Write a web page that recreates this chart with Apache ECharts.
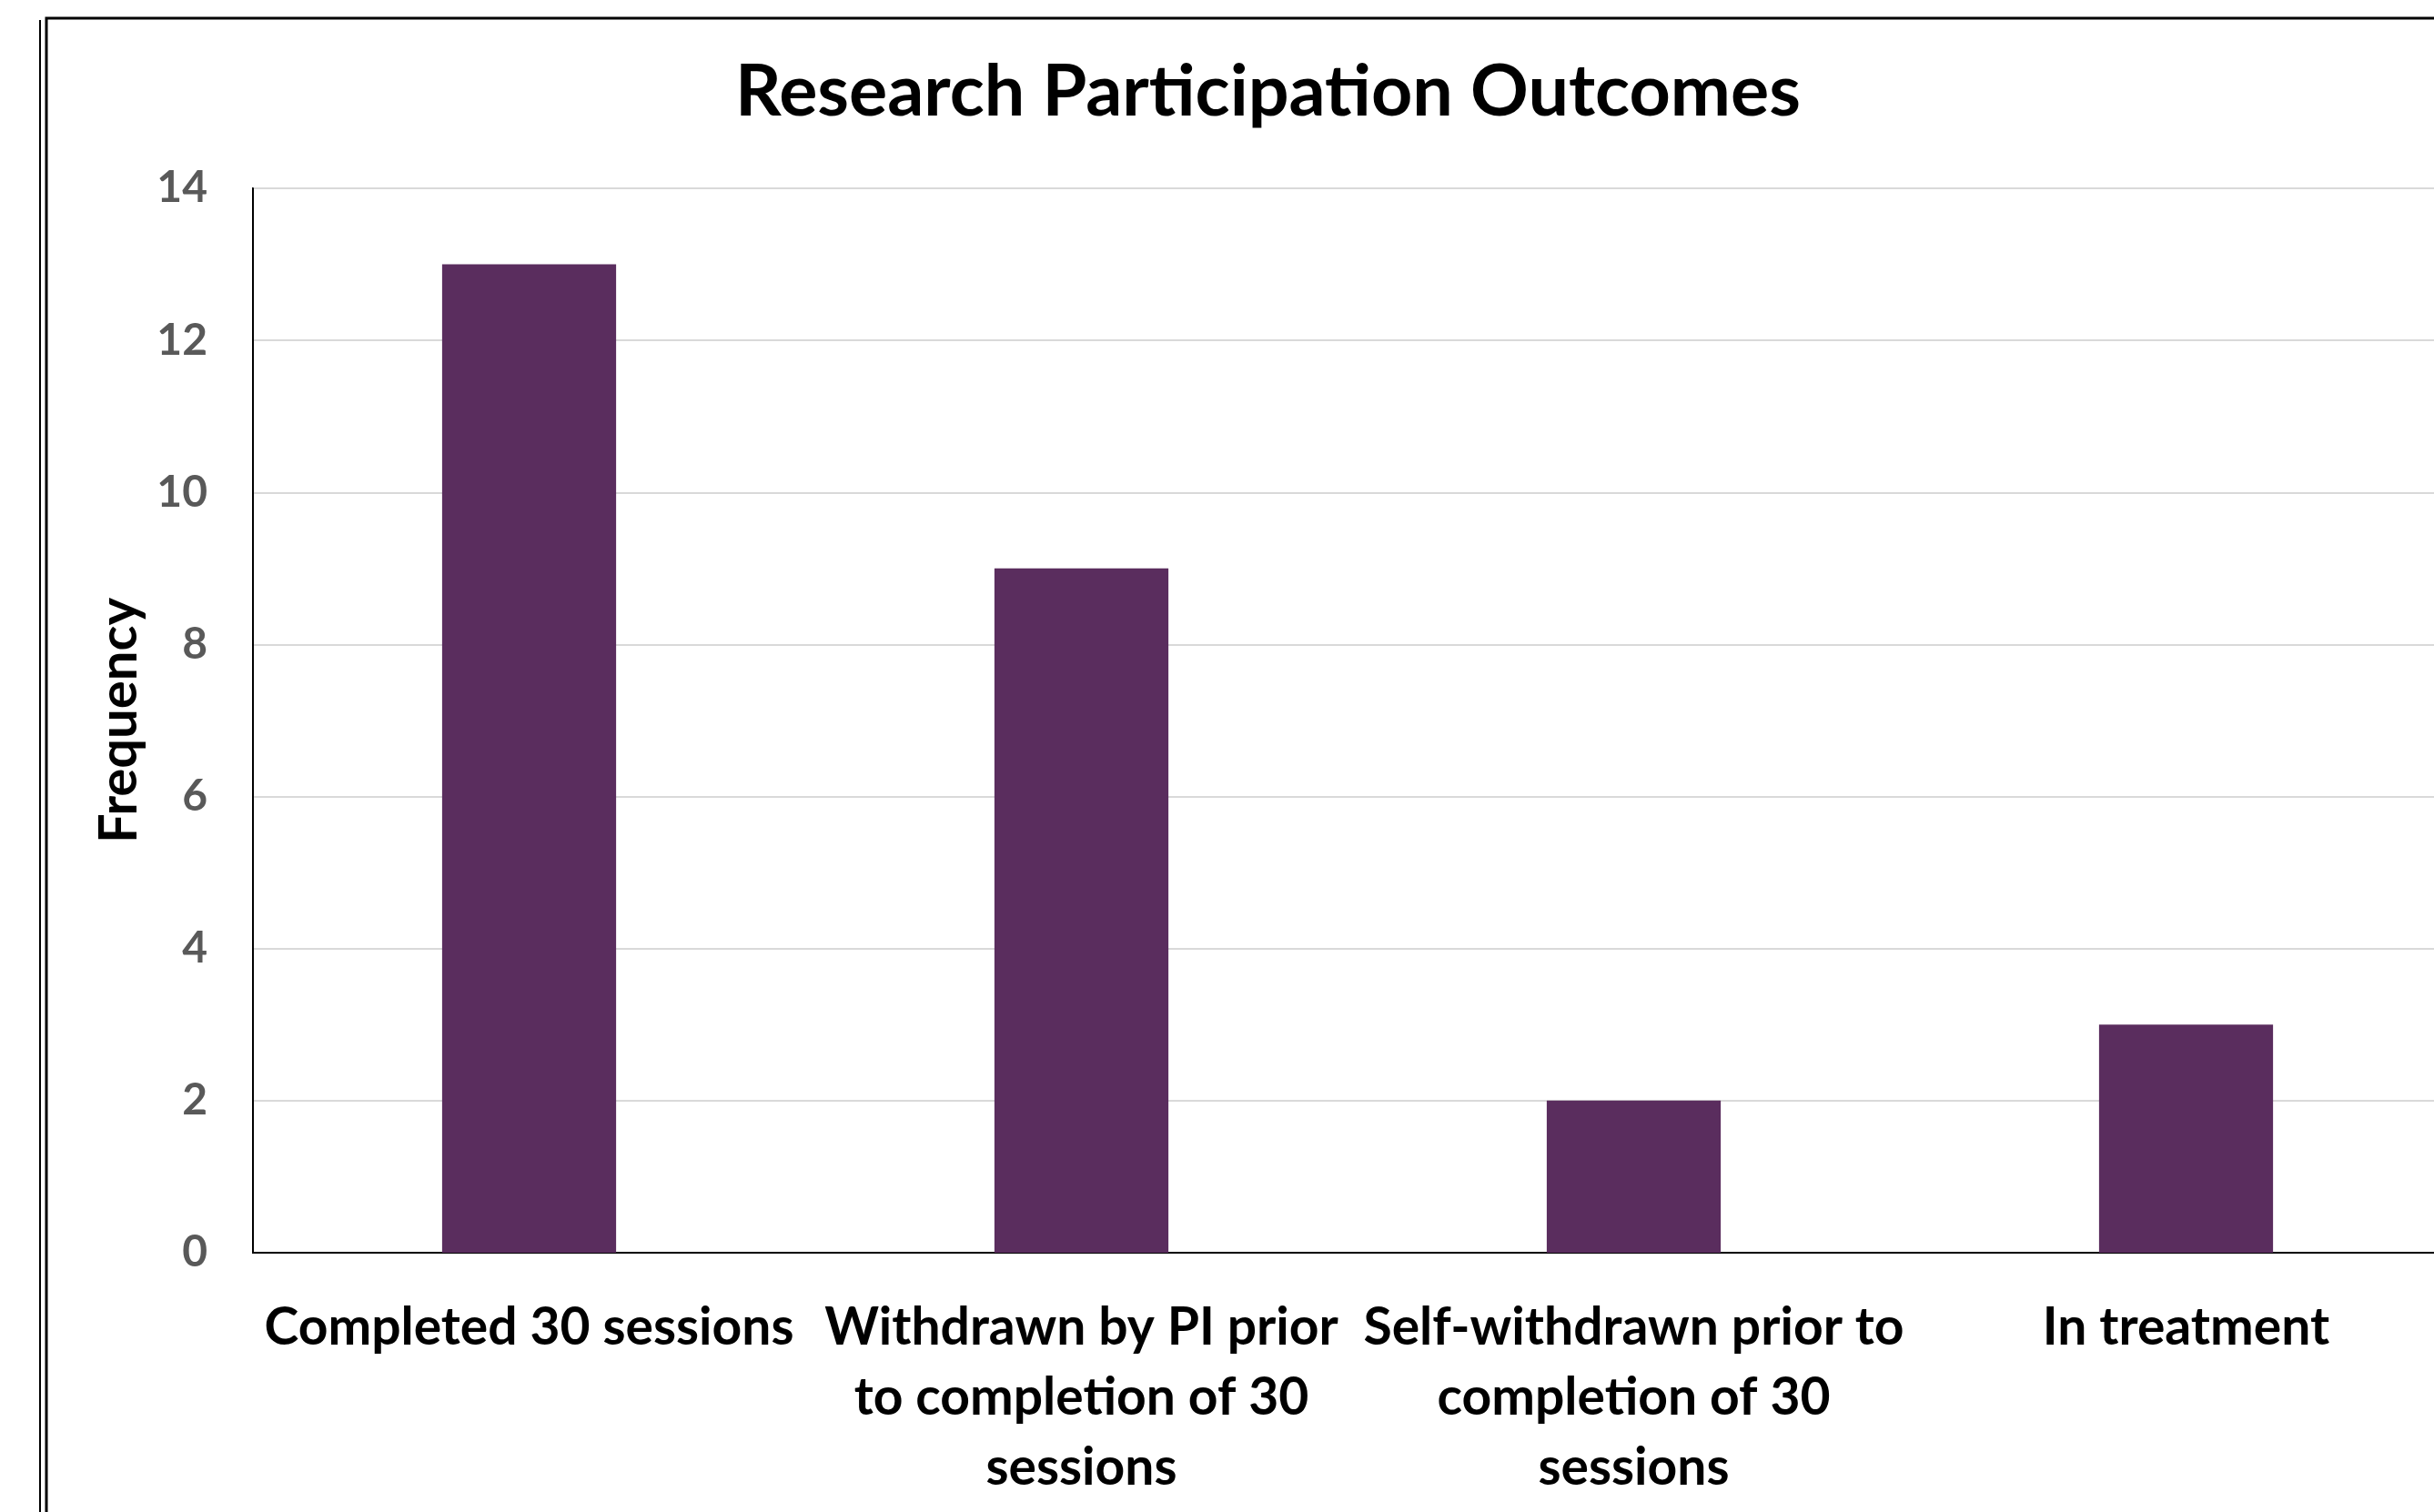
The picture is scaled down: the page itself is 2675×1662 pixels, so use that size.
<!DOCTYPE html>
<html>
<head>
<meta charset="utf-8">
<title>Research Participation Outcomes</title>
<script src="https://cdn.jsdelivr.net/npm/echarts@6/dist/echarts.min.js"></script>
<style>
  html, body { margin: 0; padding: 0; background: #ffffff; }
  #chart { width: 2675px; height: 1662px; }
</style>
</head>
<body>
<div id="chart"></div>
<script>
// Outcome categories (line breaks give the wrapped axis labels)
const categories = [
  'Completed 30 sessions',
  'Withdrawn by PI prior\nto completion of 30\nsessions',
  'Self-withdrawn prior to\ncompletion of 30\nsessions',
  'In treatment'
];
// Number of participants in each outcome
const frequency = [13, 9, 2, 3];
// Value axis ticks
const yTicks = [0, 2, 4, 6, 8, 10, 12, 14];

const FONT = 'Lato, "Open Sans", sans-serif';

const chart = echarts.init(document.getElementById('chart'), null, { renderer: 'canvas' });

chart.setOption({
  backgroundColor: '#ffffff',
  animation: false,
  title: {
    text: 'Research Participation Outcomes',
    left: 803,
    top: 57,
    textStyle: { fontFamily: FONT, fontWeight: 'bold', fontSize: 79, color: '#000000' }
  },
  graphic: [
    // Outer chart frame (runs past the right and bottom edges of the page)
    {
      type: 'rect',
      shape: { x: 51, y: 20, width: 2800, height: 1800 },
      style: { fill: 'none', stroke: '#000000', lineWidth: 3 },
      silent: true
    },
    {
      type: 'line',
      shape: { x1: 44, y1: 22, x2: 44, y2: 1700 },
      style: { stroke: '#000000', lineWidth: 2 },
      silent: true
    }
  ],
  grid: {
    left: 278,
    top: 207,
    bottom: 285,
    width: 2428,
    outerBoundsMode: 'none',
    containLabel: false,
    show: true,
    borderColor: '#000000',
    borderWidth: 2,
    backgroundColor: 'transparent'
  },
  xAxis: {
    type: 'category',
    data: categories,
    axisLine: { show: true, lineStyle: { color: '#000000', width: 2 } },
    axisTick: { show: false },
    axisLabel: {
      interval: 0,
      margin: 44,
      fontFamily: FONT,
      fontWeight: 'bold',
      fontSize: 57,
      lineHeight: 77,
      color: '#000000',
      align: 'center'
    }
  },
  yAxis: {
    type: 'value',
    min: yTicks[0],
    max: yTicks[yTicks.length - 1],
    interval: yTicks[1] - yTicks[0],
    name: 'Frequency',
    nameLocation: 'middle',
    nameGap: 118,
    nameTextStyle: { fontFamily: FONT, fontWeight: 'bold', fontSize: 58, color: '#000000' },
    axisLine: { show: true, lineStyle: { color: '#000000', width: 2 } },
    axisTick: { show: false },
    axisLabel: {
      margin: 50,
      fontFamily: FONT,
      fontWeight: 'bold',
      fontSize: 48,
      color: '#595959'
    },
    splitLine: { show: true, lineStyle: { color: '#d9d9d9', width: 2 } }
  },
  series: [{
    type: 'bar',
    data: frequency,
    barWidth: '31.5%',
    itemStyle: { color: '#5A2D5E' }
  }]
});
</script>
</body>
</html>
